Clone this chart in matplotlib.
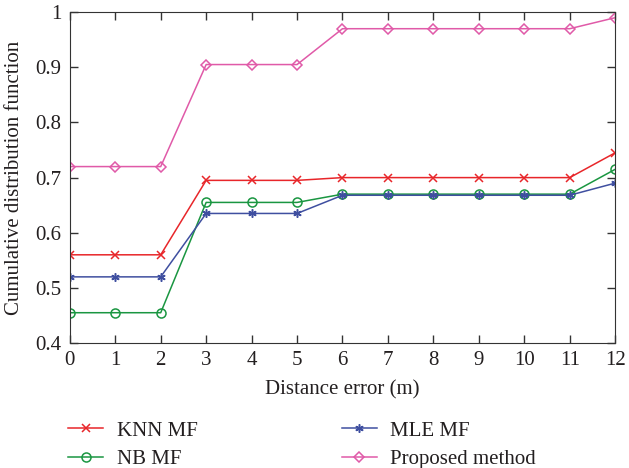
import matplotlib.pyplot as plt

plt.rcParams['font.family'] = ['Liberation Serif', 'DejaVu Serif']

x = list(range(13))
knn = [0.56, 0.56, 0.56, 0.695, 0.695, 0.695, 0.70, 0.70, 0.70, 0.70, 0.70, 0.70, 0.745]
nb = [0.455, 0.455, 0.455, 0.655, 0.655, 0.655, 0.67, 0.67, 0.67, 0.67, 0.67, 0.67, 0.715]
mle = [0.52, 0.52, 0.52, 0.635, 0.635, 0.635, 0.668, 0.668, 0.668, 0.668, 0.668, 0.668, 0.69]
proposed = [0.72, 0.72, 0.72, 0.905, 0.905, 0.905, 0.97, 0.97, 0.97, 0.97, 0.97, 0.97, 0.99]

txt = '#231f20'
fig = plt.figure(figsize=(6.29, 4.68), dpi=100)
ax = fig.add_axes([0.111, 0.267, 0.867, 0.707])

l1, = ax.plot(x, knn, color='#e8262a', marker='x', ms=6, mew=1.1, lw=1.1, label='KNN MF')
l2, = ax.plot(x, nb, color='#1a9641', marker='o', ms=6.5, mfc='none', mew=1.1, lw=1.1, label='NB MF')
l3, = ax.plot(x, mle, color='#3f4fa0', marker=(6, 2, 0), ms=6, mew=1.1, lw=1.1, label='MLE MF')
l4, = ax.plot(x, proposed, color='#e05aa8', marker='D', ms=5.5, mfc='none', mew=1.1, lw=1.1,
              label='Proposed method')

ax.set_xlim(0, 12)
ax.set_ylim(0.4, 1.0)
ax.set_xticks(x)
ax.set_yticks([0.4, 0.5, 0.6, 0.7, 0.8, 0.9, 1.0])
ax.set_yticklabels(['0.4', '0.5', '0.6', '0.7', '0.8', '0.9', '1'])
ax.tick_params(direction='in', top=True, right=True, length=6, width=1, pad=6,
               labelsize=15, colors='#333333', labelcolor=txt)
for s in ax.spines.values():
    s.set_color('#333333')
ax.set_xlabel('Distance error (m)', fontsize=15, color=txt, labelpad=7)
ax.set_ylabel('Cumulative distribution function', fontsize=15, color=txt, labelpad=8)

leg = fig.legend(handles=[l1, l2, l3, l4], loc='upper left', bbox_to_anchor=(0.108, 0.1),
                 ncol=2, frameon=False, fontsize=15, columnspacing=6.9, handlelength=1.7,
                 handletextpad=0.65, labelspacing=0.42, borderaxespad=0, borderpad=0)
for t in leg.get_texts():
    t.set_color(txt)

fig.savefig('out.png', dpi=100)
